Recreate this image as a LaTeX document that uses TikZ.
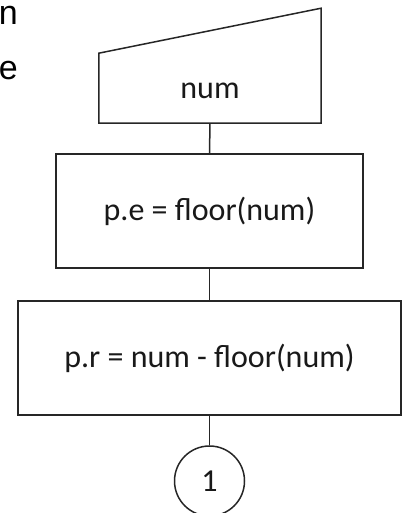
\documentclass[tikz,border=0pt]{standalone}
\usepackage{fontspec}
\setmainfont{Carlito}
\newfontfamily\cutfont{Liberation Sans}
\usetikzlibrary{calc}
\tikzset{
  flow/.style={line width=1.5pt,draw=black!85},
  procbox/.style={flow,rectangle,minimum height=114pt,inner sep=0pt},
  inbox/.style={rectangle,minimum width=222pt,minimum height=64pt,inner sep=0pt},
  connbox/.style={flow,circle,minimum size=70pt,inner sep=0pt}
}
\begin{document}
\begin{tikzpicture}[x=1pt,y=1pt,font=\fontsize{32}{38}\selectfont,text=black!90]
  \useasboundingbox (0,0) rectangle (407,513);
  % cut-off words at the left edge
  \node[font=\cutfont\fontsize{34}{40}\selectfont,text=black,anchor=base east,inner sep=0pt] (cutn) at (18,488) {n};
  \node[font=\cutfont\fontsize{34}{40}\selectfont,text=black,anchor=base east,inner sep=0pt] (cute) at (18,433) {e};
  % manual input
  \node[inbox] (inp) at (210,422) {num};
  \draw[flow] (inp.south west) -- (inp.south east) -- ++(0,115)
    -- ($(inp.south west)+(0,70)$) -- cycle;
  % processes
  \node[procbox,minimum width=307pt] (pe) at (209.5,302) {p.e = floor(num)};
  \node[procbox,minimum width=383pt] (pr) at (209.5,155) {p.r = num - floor(num)};
  % connector
  \node[connbox] (con) at (209.5,32) {1};
  \foreach \a/\b in {inp/pe,pe/pr,pr/con}
    \draw[flow] (\a.south) -- (\b.north);
\end{tikzpicture}
\end{document}
